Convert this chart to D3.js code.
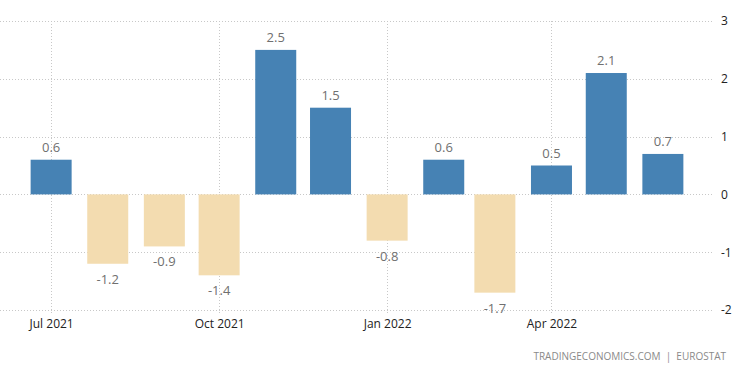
<!DOCTYPE html>
<html>
<head>
<meta charset="utf-8">
<script src="https://cdn.jsdelivr.net/npm/d3@7"></script>
<style>
  html, body { margin: 0; padding: 0; background: #fff; }
  svg { display: block; font-family: "Open Sans", "DejaVu Sans", sans-serif; }
  .grid line { stroke: #c8c8c8; stroke-dasharray: 1,2; }
  .grid path { display: none; }
  .axis path, .axis line { display: none; }
</style>
</head>
<body>
<svg id="chart" width="750" height="373"></svg>
<script>
// months (first day) and monthly change values
const months = ['2021-07-01','2021-08-01','2021-09-01','2021-10-01','2021-11-01','2021-12-01',
                '2022-01-01','2022-02-01','2022-03-01','2022-04-01','2022-05-01','2022-06-01']
const values = [0.6, -1.2, -0.9, -1.4, 2.5, 1.5, -0.8, 0.6, -1.7, 0.5, 2.1, 0.7]
const xTicks = ['2021-07-01','2021-10-01','2022-01-01','2022-04-01']
const yTicks = [-2, -1, 0, 1, 2, 3]
const source = 'TRADINGECONOMICS.COM  |  EUROSTAT'

const parse = d3.timeParse('%Y-%m-%d')
const data = months.map((m, i) => ({ date: parse(m), value: values[i] }))
// plain hyphen for negatives, like the original
const fmt = d3.formatLocale({ decimal: '.', thousands: ',', grouping: [3], currency: ['', ''], minus: '-' })

const svg = d3.select('#chart')
const plotLeft = 0, plotRight = 714, plotTop = 21, plotBottom = 310

const x = d3.scaleTime()
  .domain([d3.timeDay.offset(parse(months[0]), -28), d3.timeDay.offset(parse(months[11]), 28)])
  .range([plotLeft, plotRight])
const y = d3.scaleLinear().domain([-2, 3]).range([plotBottom, plotTop])

// horizontal grid
svg.append('g')
  .attr('class', 'grid')
  .selectAll('line')
  .data(yTicks)
  .join('line')
  .attr('x1', plotLeft).attr('x2', plotRight)
  .attr('y1', d => Math.round(y(d)) + 0.5).attr('y2', d => Math.round(y(d)) + 0.5)

// vertical grid
svg.append('g')
  .attr('class', 'grid')
  .selectAll('line')
  .data(xTicks.map(parse))
  .join('line')
  .attr('x1', d => Math.round(x(d)) + 0.5).attr('x2', d => Math.round(x(d)) + 0.5)
  .attr('y1', plotTop).attr('y2', plotBottom + 3)

const barW = 41
svg.append('g')
  .selectAll('rect')
  .data(data)
  .join('rect')
  .attr('x', d => x(d.date) - barW / 2)
  .attr('width', barW)
  .attr('y', d => y(Math.max(0, d.value)))
  .attr('height', d => Math.abs(y(d.value) - y(0)))
  .attr('fill', d => d.value >= 0 ? '#4682b4' : '#f3dcb0')

svg.append('g')
  .selectAll('text')
  .data(data)
  .join('text')
  .attr('x', d => x(d.date))
  .attr('y', d => d.value >= 0 ? y(d.value) - 8 : y(d.value) + 20)
  .attr('text-anchor', 'middle')
  .attr('font-size', 13)
  .attr('fill', '#707070')
  .text(d => fmt.format('.1f')(d.value))

// x axis labels
svg.append('g')
  .attr('class', 'axis')
  .attr('transform', `translate(0,${plotBottom + 6})`)
  .call(d3.axisBottom(x).tickValues(xTicks.map(parse)).tickFormat(d3.timeFormat('%b %Y')).tickSize(0))
  .selectAll('text')
  .attr('font-size', 12)
  .attr('fill', '#222')
  .attr('font-family', '"Open Sans", sans-serif')

// y axis labels (right)
svg.append('g')
  .attr('class', 'axis')
  .attr('transform', `translate(${plotRight + 4},0)`)
  .call(d3.axisRight(y).tickValues(yTicks).tickFormat(fmt.format('d')).tickSize(0))
  .selectAll('text')
  .attr('font-size', 12)
  .attr('fill', '#222')
  .attr('font-family', '"Open Sans", sans-serif')

svg.append('text')
  .attr('x', 726).attr('y', 360)
  .attr('text-anchor', 'end')
  .attr('font-size', 10)
  .attr('fill', '#8a8a8a')
  .style('white-space', 'pre')
  .text(source)
</script>
</body>
</html>
